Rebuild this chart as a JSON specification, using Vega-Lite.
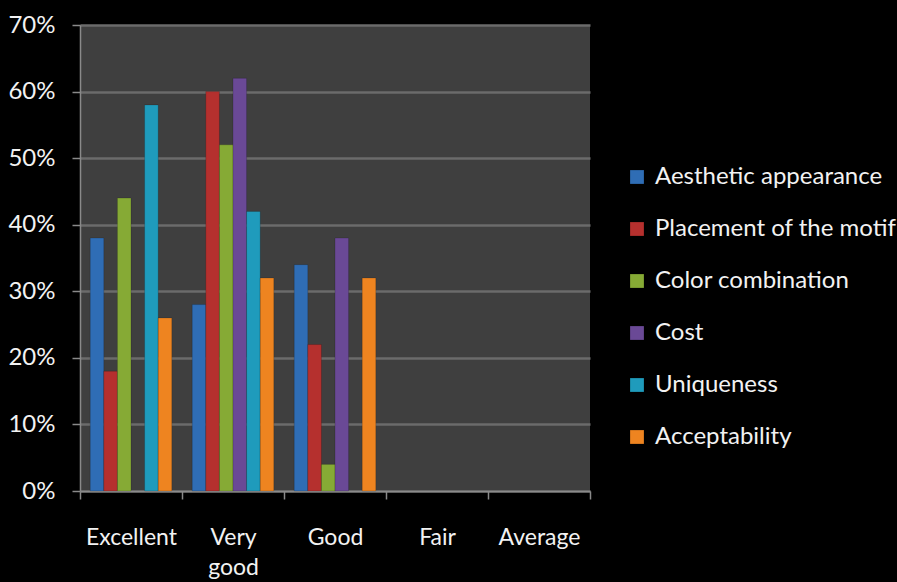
{
  "$schema": "https://vega.github.io/schema/vega-lite/v6.json",
  "autosize": {"type": "none"},
  "width": 510,
  "height": 466,
  "padding": {"left": 80, "top": 25, "right": 307, "bottom": 91},
  "background": "#000000",
  "config": {
    "view": {"fill": "#3f3f3f", "stroke": null},
    "font": "Lato"
  },
  "data": {
    "values": [
      {"rating": "Excellent", "aspect": "Aesthetic appearance", "value": 0.38},
      {"rating": "Excellent", "aspect": "Placement of the motif", "value": 0.18},
      {"rating": "Excellent", "aspect": "Color combination", "value": 0.44},
      {"rating": "Excellent", "aspect": "Uniqueness", "value": 0.58},
      {"rating": "Excellent", "aspect": "Acceptability", "value": 0.26},
      {"rating": "Very good", "aspect": "Aesthetic appearance", "value": 0.28},
      {"rating": "Very good", "aspect": "Placement of the motif", "value": 0.60},
      {"rating": "Very good", "aspect": "Color combination", "value": 0.52},
      {"rating": "Very good", "aspect": "Cost", "value": 0.62},
      {"rating": "Very good", "aspect": "Uniqueness", "value": 0.42},
      {"rating": "Very good", "aspect": "Acceptability", "value": 0.32},
      {"rating": "Good", "aspect": "Aesthetic appearance", "value": 0.34},
      {"rating": "Good", "aspect": "Placement of the motif", "value": 0.22},
      {"rating": "Good", "aspect": "Color combination", "value": 0.04},
      {"rating": "Good", "aspect": "Cost", "value": 0.38},
      {"rating": "Good", "aspect": "Acceptability", "value": 0.32}
    ]
  },
  "mark": {"type": "bar", "stroke": "#00000055", "strokeWidth": 0.5},
  "encoding": {
    "x": {
      "field": "rating",
      "type": "nominal",
      "sort": null,
      "scale": {"domain": ["Excellent", "Very good", "Good", "Fair", "Average"], "paddingInner": 0, "paddingOuter": 0},
      "axis": {
        "title": null,
        "labelAngle": 0,
        "labelColor": "#f2f2f2",
        "labelFontSize": 23,
        "labelPadding": 27,
        "labelLineHeight": 30,
        "labelBaseline": "top",
        "labelExpr": "datum.label == 'Very good' ? ['Very', 'good'] : datum.label",
        "tickBand": "extent",
        "tickColor": "#8a8a8a",
        "tickSize": 8,
        "tickWidth": 1.5,
        "domainColor": "#8a8a8a",
        "domainWidth": 1.5,
        "grid": false
      }
    },
    "xOffset": {
      "field": "aspect",
      "type": "nominal",
      "scale": {"domain": ["Aesthetic appearance", "Placement of the motif", "Color combination", "Cost", "Uniqueness", "Acceptability"], "paddingInner": 0, "paddingOuter": 0.75}
    },
    "y": {
      "field": "value",
      "type": "quantitative",
      "scale": {"domain": [0, 0.7], "nice": false},
      "axis": {
        "title": null,
        "format": ".0%",
        "values": [0, 0.1, 0.2, 0.3, 0.4, 0.5, 0.6, 0.7],
        "labelColor": "#f2f2f2",
        "labelFontSize": 24,
        "labelPadding": 17,
        "tickColor": "#8a8a8a",
        "tickSize": 8,
        "tickWidth": 1.5,
        "domainColor": "#8a8a8a",
        "domainWidth": 1.5,
        "gridColor": "#6b6b6b",
        "gridWidth": 2.5
      }
    },
    "color": {
      "field": "aspect",
      "type": "nominal",
      "scale": {
        "domain": ["Aesthetic appearance", "Placement of the motif", "Color combination", "Cost", "Uniqueness", "Acceptability"],
        "range": ["#2f6db5", "#b5302e", "#86aa35", "#6a4996", "#1f9bbc", "#ee8420"]
      },
      "legend": {
        "title": null,
        "orient": "none",
        "legendX": 545,
        "legendY": 140,
        "symbolType": "square",
        "symbolSize": 190,
        "symbolStrokeWidth": 0,
        "labelColor": "#f2f2f2",
        "labelFontSize": 24,
        "labelOffset": 6,
        "labelLimit": 400,
        "rowPadding": 28
      }
    }
  }
}
